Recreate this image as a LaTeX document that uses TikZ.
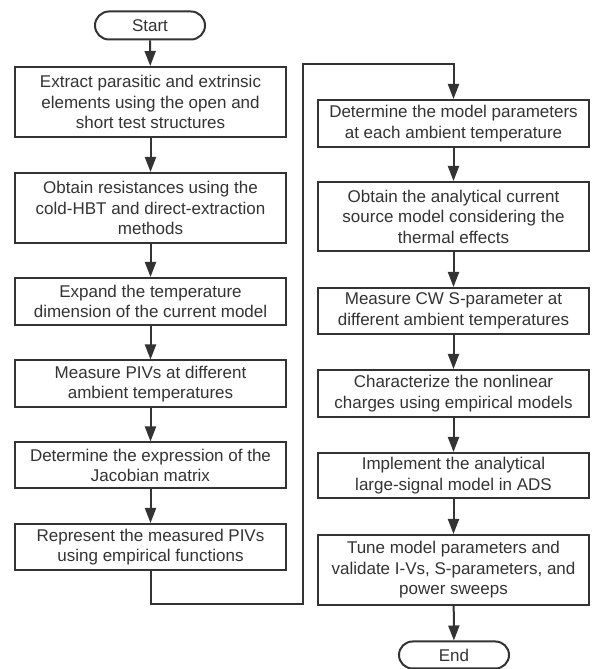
\documentclass[tikz,border=0pt]{standalone}
\usepackage{fontspec}
\setmainfont{Liberation Sans}
\usepackage{tikz}
\usetikzlibrary{arrows.meta,shapes.misc}
\definecolor{linegray}{HTML}{333333}

\begin{document}
\begin{tikzpicture}[x=1pt,y=1pt,
  stepbox/.style={draw=linegray,line width=2pt,fill=white,text=linegray,
    minimum width=271pt,align=center,inner sep=0pt,
    font=\fontsize{17}{20.5}\selectfont},
  termbox/.style={draw=linegray,line width=2pt,fill=white,text=linegray,
    rounded rectangle,minimum width=110pt,minimum height=28pt,inner sep=0pt,
    font=\fontsize{17}{20.5}\selectfont},
  flow/.style={draw=linegray,line width=2pt,-{Triangle[length=15pt,width=11pt]}}]
\useasboundingbox (0.000000, 0.000000) rectangle (597.000000, 669.000000);
% Drawing terminals
\node[termbox] (start) at (150.000000, 643.500000) {Start};
\node[termbox,minimum height=27pt] (end) at (454.000000, 14.000000) {End};
% Left column
\node[stepbox,minimum height=70pt] (extract) at (150.500000, 567.000000) {Extract parasitic and extrinsic\\elements using the open and\\short test structures};
\node[stepbox,minimum height=70pt] (resist) at (150.500000, 461.000000) {Obtain resistances using the\\cold-HBT and direct-extraction\\methods};
\node[stepbox,minimum height=47pt] (expand) at (150.500000, 367.500000) {Expand the temperature\\dimension of the current model};
\node[stepbox,minimum height=47pt] (piv) at (150.500000, 285.000000) {Measure PIVs at different\\ambient temperatures};
\node[stepbox,minimum height=46pt] (jacob) at (150.500000, 203.500000) {Determine the expression of the\\Jacobian matrix};
\node[stepbox,minimum height=46pt] (repr) at (150.500000, 122.000000) {Represent the measured PIVs\\using empirical functions};
% Right column
\node[stepbox,minimum height=47pt] (param) at (453.500000, 545.500000) {Determine the model parameters\\at each ambient temperature};
\node[stepbox,minimum height=69pt] (source) at (453.500000, 452.500000) {Obtain the analytical current\\source model considering the\\thermal effects};
\node[stepbox,minimum height=46pt] (cwsp) at (453.500000, 358.000000) {Measure CW S-parameter at\\different ambient temperatures};
\node[stepbox,minimum height=47pt] (charge) at (453.500000, 275.500000) {Characterize the nonlinear\\charges using empirical models};
\node[stepbox,minimum height=45pt] (ads) at (453.500000, 193.500000) {Implement the analytical\\large-signal model in ADS};
\node[stepbox,minimum height=70pt] (tune) at (453.500000, 99.000000) {Tune model parameters and\\validate I-Vs, S-parameters, and\\power sweeps};
% Drawing arrows
\draw[flow] (start) -- (extract);
\draw[flow] (extract) -- (resist);
\draw[flow] (resist) -- (expand);
\draw[flow] (expand) -- (piv);
\draw[flow] (piv) -- (jacob);
\draw[flow] (jacob) -- (repr);
\draw[flow] (repr.south) -- ++(0.000000, -33.000000) -| (302.500000, 604.500000) -| (param.north);
\draw[flow] (param) -- (source);
\draw[flow] (source) -- (cwsp);
\draw[flow] (cwsp) -- (charge);
\draw[flow] (charge) -- (ads);
\draw[flow] (ads) -- (tune);
\draw[flow] (tune) -- (end);
% Done with arrows
\end{tikzpicture}
\end{document}
